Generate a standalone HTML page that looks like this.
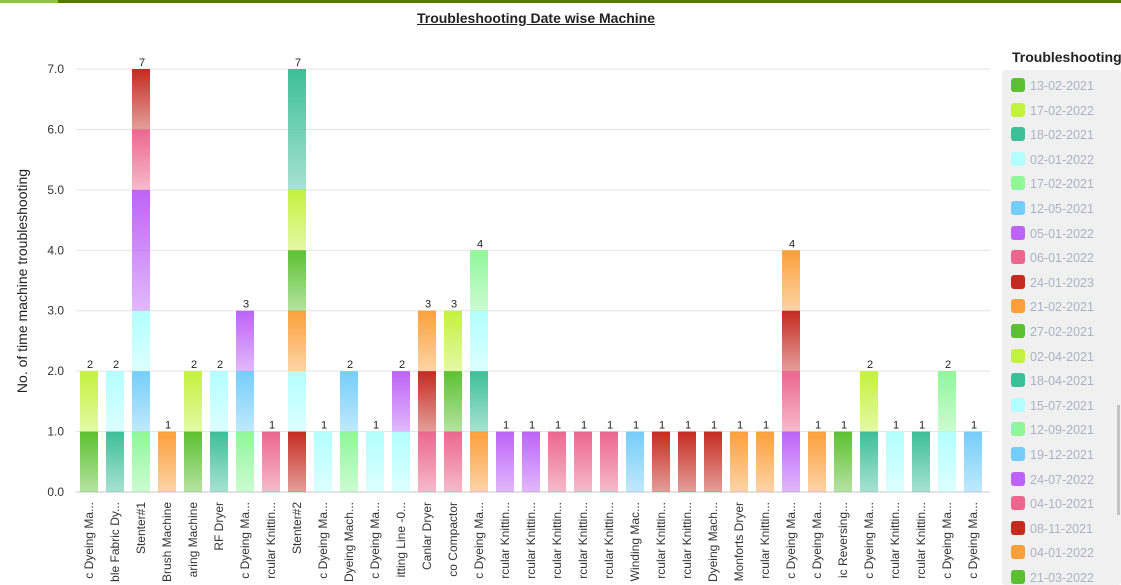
<!DOCTYPE html>
<html><head><meta charset="utf-8"><style>
body{margin:0;width:1121px;height:585px;overflow:hidden;background:#fff;font-family:"Liberation Sans",sans-serif;position:relative}
#topbar{position:absolute;left:0;top:0;width:1121px;height:3px;background:#56760f}
#topbar2{position:absolute;left:0;top:0;width:58px;height:3px;background:#8cc43a}
#title{position:absolute;left:0;width:1072px;top:10px;text-align:center;font-weight:bold;font-size:14px;color:#222;text-decoration:underline}
#legend-title{position:absolute;left:1012px;top:49px;font-size:14px;font-weight:bold;color:#222}
#legend{position:absolute;left:1002px;top:70px;width:119px;height:515px;background:#f0f0f0;border-radius:3px;overflow:hidden}
.li{position:absolute;left:9px;height:16px;font-size:12.5px;color:#aab2c6;line-height:16px}
.sw{display:inline-block;width:14px;height:14px;border-radius:3px;vertical-align:-2px;margin-right:5px}
#scroll{position:absolute;left:1117px;top:405px;width:3px;height:110px;background:#c4c4c4}
</style></head><body>
<div id="topbar"></div>
<div id="topbar2"></div>
<div id="title">Troubleshooting Date wise Machine</div>
<svg id="chart" width="1000" height="585" style="position:absolute;left:0;top:0"></svg>
<div id="legend-title">Troubleshooting</div>
<div id="legend"></div>
<div id="scroll"></div>
<script>
const categories=["c Dyeing Ma...","ble Fabric Dy...","Stenter#1","Brush Machine","aring Machine","RF Dryer","c Dyeing Ma...","rcular Knittin...","Stenter#2","c Dyeing Ma...","Dyeing Mach...","c Dyeing Ma...","itting Line -0...","Canlar Dryer","co Compactor","c Dyeing Ma...","rcular Knittin...","rcular Knittin...","rcular Knittin...","rcular Knittin...","rcular Knittin...","Winding Mac...","rcular Knittin...","rcular Knittin...","Dyeing Mach...","Monforts Dryer","rcular Knittin...","c Dyeing Ma...","c Dyeing Ma...","ic Reversing...","c Dyeing Ma...","rcular Knittin...","rcular Knittin...","c Dyeing Ma...","c Dyeing Ma..."];
// stacked segments per bar: [colorIndex, value], bottom to top
const stacks=[[[0,1],[1,1]],[[2,1],[3,1]],[[4,1],[5,1],[3,1],[6,2],[7,1],[8,1]],[[9,1]],[[0,1],[1,1]],[[2,1],[3,1]],[[4,1],[5,1],[6,1]],[[7,1]],[[8,1],[3,1],[9,1],[0,1],[1,1],[2,2]],[[3,1]],[[4,1],[5,1]],[[3,1]],[[3,1],[6,1]],[[7,1],[8,1],[9,1]],[[7,1],[0,1],[1,1]],[[9,1],[2,1],[3,1],[4,1]],[[6,1]],[[6,1]],[[7,1]],[[7,1]],[[7,1]],[[5,1]],[[8,1]],[[8,1]],[[8,1]],[[9,1]],[[9,1]],[[6,1],[7,1],[8,1],[9,1]],[[9,1]],[[0,1]],[[2,1],[1,1]],[[3,1]],[[2,1]],[[3,1],[4,1]],[[5,1]]];
const yTicks=[0,1,2,3,4,5,6,7];
const legendDates=["13-02-2021","17-02-2022","18-02-2021","02-01-2022","17-02-2021","12-05-2021","05-01-2022","06-01-2022","24-01-2023","21-02-2021","27-02-2021","02-04-2021","18-04-2021","15-07-2021","12-09-2021","19-12-2021","24-07-2022","04-10-2021","08-11-2021","04-01-2022","21-03-2022"];
const colors=["#5cc130","#c3f23c","#3dbf98","#b3ffff","#8ff79a","#74cdf9","#bd63f7","#ec6690","#c42a20","#fba03a"];
const NS="http://www.w3.org/2000/svg";
const svg=document.getElementById('chart');
const x0=76,step=26,bw=18,yBase=492,yTop=69,yMax=7;
const y=v=>yBase-(yBase-yTop)*v/yMax;
const xc=i=>x0+step*i+step/2;
function mk(t,a){const e=document.createElementNS(NS,t);for(const k in a)e.setAttribute(k,a[k]);svg.appendChild(e);return e;}
const defs=mk('defs',{});
colors.forEach((c,i)=>{const g=document.createElementNS(NS,'linearGradient');g.setAttribute('id','g'+i);g.setAttribute('x1','0');g.setAttribute('y1','0');g.setAttribute('x2','0');g.setAttribute('y2','1');
const s1=document.createElementNS(NS,'stop');s1.setAttribute('offset','0');s1.setAttribute('stop-color',c);
const s2=document.createElementNS(NS,'stop');s2.setAttribute('offset','1');s2.setAttribute('stop-color',c);s2.setAttribute('stop-opacity','0.45');
g.appendChild(s1);g.appendChild(s2);defs.appendChild(g);});
yTicks.forEach(t=>{
const l=mk('line',{x1:76,x2:990,y1:y(t),y2:y(t),stroke:'#e3e3e3','stroke-width':t===0?2:1});


const tx=mk('text',{x:64,y:y(t)+4,'text-anchor':'end','font-size':12,fill:'#333'});tx.textContent=t.toFixed(1);


});
const yt=mk('text',{x:0,y:0,transform:'translate(27,281) rotate(-90)','text-anchor':'middle','font-size':14,fill:'#222'});yt.textContent='No. of time machine troubleshooting';


stacks.forEach((st,i)=>{let acc=0;
st.forEach(([c,v])=>{const r=mk('rect',{x:xc(i)-bw/2,y:y(acc+v),width:bw,height:y(acc)-y(acc+v),fill:'url(#g'+c+')'});


acc+=v;});
const lb=mk('text',{x:xc(i)+1,y:y(acc)-3,'text-anchor':'middle','font-size':11,fill:'#222'});lb.textContent=acc;


const cl=mk('text',{x:0,y:0,transform:'translate('+(xc(i)+4)+',502) rotate(-90)','text-anchor':'end','font-size':12,fill:'#333'});cl.textContent=categories[i];


});
const lg=document.getElementById('legend');
legendDates.forEach((d,i)=>{const it=document.createElement('div');it.className='li';it.style.top=(8+i*24.6)+'px';
it.innerHTML='<span class="sw" style="background:'+colors[i%10]+'"></span>'+d;


lg.appendChild(it);});
</script>
</body></html>
